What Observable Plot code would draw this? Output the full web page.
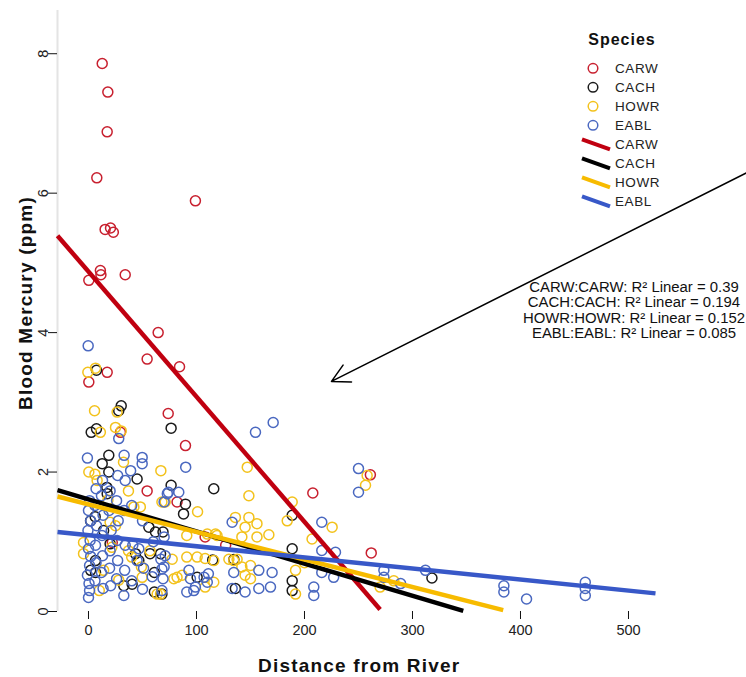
<!DOCTYPE html>
<html><head><meta charset="utf-8">
<script src="https://cdn.jsdelivr.net/npm/d3@7"></script>
<script src="https://cdn.jsdelivr.net/npm/@observablehq/plot@0.6"></script>
<style>
body{margin:0;background:#fff;}
#wrap{position:relative;width:746px;height:677px;overflow:hidden;font-family:"Liberation Sans",Arial,sans-serif;}
#wrap > svg{position:absolute;left:0;top:0;}
</style></head><body><div id="wrap"></div>
<script>
const species = ["CARW","CACH","HOWR","EABL"];
const pointColors = ["#c8202f","#1a1a1a","#f3c21c","#4a68c0"];
const lineColors = ["#c00010","#000000","#f7bb00","#3858c8"];

const carw = [[12.7,7.86],[17.9,7.45],[17.3,6.88],[7.7,6.22],[99,5.89],[15.4,5.48],[20.4,5.50],[23,5.44],[11,4.89],[11.5,4.83],[0.3,4.75],[34,4.83],[64.5,4.0],[54.3,3.62],[84.3,3.51],[17.3,3.43],[0.3,3.29],[73.8,2.84],[89.8,2.38],[29.6,2.57],[54.3,1.73],[82,1.57],[207.7,1.70],[261,1.96],[261.8,0.84],[108,1.07],[127,0.95],[22,0.99]];
const cach = [[7.4,3.46],[30.3,2.95],[28,2.88],[2.5,2.57],[7.4,2.62],[76.5,2.63],[18.8,2.24],[12.7,2.12],[18.8,2.0],[45,1.90],[76.5,1.81],[116,1.76],[17.3,1.69],[89.8,1.54],[88,1.40],[1.9,1.30],[55.9,1.21],[62,1.14],[69,1.14],[14,1.16],[46.6,0.73],[115,0.74],[61,0.56],[32.7,0.37],[40.4,0.39],[61,0.28],[68,0.25],[2,0.59],[6.5,0.73],[136,0.33],[57,0.83],[66.7,0.83],[188.6,1.38],[188.6,0.90],[188.6,0.44],[188.6,0.30],[134.6,0.745],[318,0.48],[6.2,1.36],[20,0.97],[43.5,0.83],[6.5,0.56],[17,1.78],[100.6,0.49]];
const howr = [[-0.6,3.43],[6.5,3.49],[5.6,2.88],[26.5,2.86],[25,2.64],[30.3,2.59],[11,2.57],[0.3,2.0],[8,1.88],[67,2.02],[68,1.57],[101,1.43],[42,1.50],[79,0.47],[86.7,0.52],[66.7,0.25],[108,0.35],[100.6,0.78],[116,0.73],[110,1.11],[134.5,0.73],[145,1.21],[147,2.07],[57,0.87],[148.5,1.66],[136,1.35],[148.5,1.35],[156,1.26],[188.6,1.57],[184,1.30],[225.6,1.21],[207,1.04],[256.5,1.81],[91,1.09],[117.6,1.11],[142,1.07],[156,1.07],[108,0.76],[130,0.75],[137.6,0.75],[150,0.66],[145,0.52],[150,0.47],[191.7,0.59],[191.7,0.25],[63.6,0.25],[116,0.42],[142,0.64],[270,0.35],[282.7,0.44],[6,1.97],[32.4,2.14],[37,1.73],[20,1.28],[48,1.50],[37,0.87],[40,0.78],[49,0.64],[-4.6,0.99],[-4.6,0.83],[21.6,0.92],[14,0.59],[49.7,0.49],[91,0.78],[82,0.49],[25,1.23],[71,1.57],[77.5,0.75],[18,1.60],[10,0.30],[28,0.45],[167,1.10],[200,0.70],[258,1.95],[119,1.09]];
const eabl = [[-1,2.20],[1,1.59],[0,1.45],[2,1.30],[-0.5,1.16],[1.5,1.02],[0,0.90],[2,0.79],[1,0.66],[-1,0.52],[0.5,0.40],[1,0.30],[0,0.20],
  [7,1.76],[6,1.52],[7.5,1.23],[6.5,0.95],[7,0.70],[6,0.44],
  [13,1.88],[12,1.66],[13.5,1.38],[12.5,1.09],[13,0.80],[12,0.56],[13.5,0.33],
  [20,1.73],[19,1.45],[21,1.16],[20,0.87],[19.5,0.62],[20.5,0.37],
  [28,2.48],[27,1.95],[26,1.59],[27.5,1.30],[26.5,1.02],[27,0.73],[26,0.47],
  [33,2.24],[34,1.88],[33,1.45],[34,0.95],[33.5,0.59],[32.7,0.23],
  [39,2.02],[40,1.52],[41,0.95],[40,0.44],
  [49.7,2.21],[49.7,2.12],[50,1.30],[46.6,0.90],[45,0.73],[51,0.62],[50,0.32],
  [60,1.00],[59,0.50],
  [68,0.61],[69,0.47],[68,0.30],[70,1.57],[73,1.69],[74,1.71],[70,1.07],[71,0.80],[67,0.75],[70,0.64],
  [-0.3,3.81],
  [83.6,1.71],[90,2.07],[93,0.59],[94.4,0.47],[99,0.35],[91,0.28],[97.5,0.30],
  [107,0.49],[111,0.54],[110,0.42],
  [133,1.28],[134.5,0.56],[133,0.33],[145,0.28],
  [154.6,2.57],[157.7,0.59],[157.7,0.33],[170,0.56],[168.5,0.35],[171,2.71],
  [208.6,0.35],[208.6,0.23],[216,1.28],[216,0.875],[216,0.56],[228.7,0.85],[227,0.49],
  [250,2.05],[250,1.71],[273.5,0.59],[273.5,0.49],[289,0.40],[312,0.59],
  [384.6,0.37],[384.6,0.28],[405.6,0.18],[460,0.42],[460,0.33],[460,0.23]];

// fitted line segments (start, end)
const fitStart = [[-28.7,5.39],[-28.7,1.74],[-28.7,1.65],[-28.7,1.14]];
const fitEnd = [[270,0.03],[347,0.01],[384,0.02],[525,0.26]];
const r2 = ["0.39","0.194","0.152","0.085"];

const xTicks = [0,100,200,300,400,500];
const yTicks = [0,2,4,6,8];
const xDomain = [-28.7, 530];
const yDomain = [0, 8.62];
const arrowFrom = [609, 6.29];
const arrowTo = [225, 3.30];

const groups = [carw, cach, howr, eabl];
const font = '"Liberation Sans", Arial, sans-serif';

const marks = [
  Plot.ruleX([xDomain[0]], {stroke:"#e4e4e4", strokeWidth:2}),
  Plot.axisY({ticks:yTicks, tickSize:9, tickRotate:-90, tickPadding:1, fontSize:14.5, label:null, stroke:"#111", fill:"#222"}),
  Plot.axisX({ticks:xTicks, tickSize:8, tickPadding:5, fontSize:14.5, label:null, stroke:"#111", fill:"#222"})
];
groups.forEach((g, i) => {
  marks.push(Plot.dot(g, {x:d=>d[0], y:d=>d[1], r:5, stroke:pointColors[i], strokeWidth:1.5, fill:"none"}));
});
species.forEach((s, i) => {
  marks.push(Plot.link([{x1:fitStart[i][0], y1:fitStart[i][1], x2:fitEnd[i][0], y2:fitEnd[i][1]}],
    {x1:"x1", y1:"y1", x2:"x2", y2:"y2", stroke:lineColors[i], strokeWidth:4.5}));
});
marks.push(Plot.arrow([{x1:arrowFrom[0], y1:arrowFrom[1], x2:arrowTo[0], y2:arrowTo[1]}],
  {x1:"x1", y1:"y1", x2:"x2", y2:"y2", stroke:"#000", strokeWidth:1.5, headLength:20, headAngle:56}));
marks.push(Plot.text(["Blood Mercury (ppm)"], {frameAnchor:"left", textAnchor:"middle", lineAnchor:"middle", dx:-32, dy:-8, rotate:-90, fontSize:19, fontWeight:"bold", fill:"#111"}));
marks.push(Plot.text(["Distance from River"], {frameAnchor:"bottom", textAnchor:"middle", lineAnchor:"middle", dy:54, fontSize:19, fontWeight:"bold", fill:"#111"}));

const chart = Plot.plot({
  width:746, height:677,
  marginLeft:57, marginRight:85.6, marginTop:10, marginBottom:66,
  x:{domain:xDomain}, y:{domain:yDomain},
  style:{fontFamily:font, background:"white", overflow:"visible"},
  marks
});
d3.select(chart).selectAll("text")
  .filter(function(){ return this.textContent === "Distance from River" || this.textContent === "Blood Mercury (ppm)"; })
  .style("letter-spacing","1.2px");
document.getElementById("wrap").appendChild(chart);

// legend + R² annotation overlay
const ov = d3.select("#wrap").append("svg").attr("width",746).attr("height",677)
  .style("pointer-events","none").style("font-family",font);
ov.append("text").attr("x",622).attr("y",45).attr("text-anchor","middle")
  .attr("font-size",16).attr("font-weight","bold").attr("letter-spacing","1px").attr("fill","#111").text("Species");
const rowY = k => 68.3 + 19 * k;
species.forEach((s, i) => {
  const y = rowY(i);
  ov.append("circle").attr("cx",593).attr("cy",y).attr("r",4.8).attr("fill","none")
    .attr("stroke",pointColors[i]).attr("stroke-width",1.5);
  ov.append("text").attr("x",615).attr("y",y+5).attr("font-size",13.5).attr("letter-spacing","0.6px").attr("fill","#222").text(s);
});
species.forEach((s, i) => {
  const y = rowY(i + 4);
  ov.append("line").attr("x1",582).attr("y1",y-5).attr("x2",610).attr("y2",y+5)
    .attr("stroke",lineColors[i]).attr("stroke-width",4);
  ov.append("text").attr("x",615).attr("y",y+5).attr("font-size",13.5).attr("letter-spacing","0.6px").attr("fill","#222").text(s);
});
species.forEach((s, i) => {
  ov.append("text").attr("x",634).attr("y",292 + 15.3 * i).attr("text-anchor","middle")
    .attr("font-size",14.9).attr("fill","#111").text(`${s}:${s}: R² Linear = ${r2[i]}`);
});
</script></body></html>
